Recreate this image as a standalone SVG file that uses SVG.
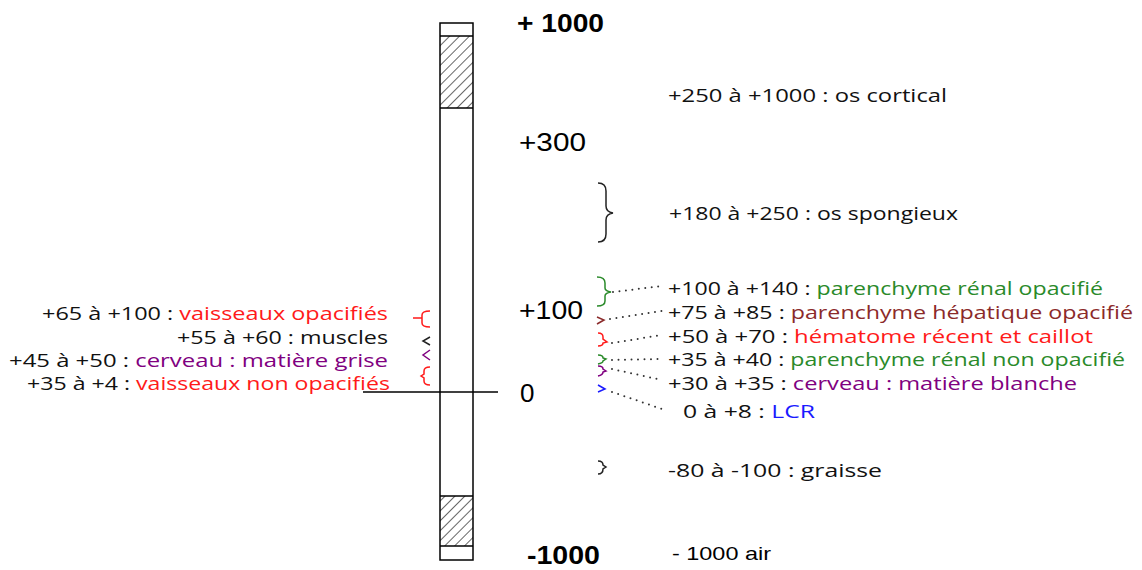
<svg xmlns="http://www.w3.org/2000/svg" width="1142" height="570" viewBox="0 0 1142 570">
<style>
.t{font-family:"Open Sans","Liberation Sans",sans-serif;font-size:18px;fill:#111}
.s{font-family:"Liberation Sans",Arial,sans-serif;font-size:26px;fill:#000}
.b{font-weight:bold}
.r{fill:#ff1a1a}.g{fill:#2a8a2a}.br{fill:#8b2a2a}.p{fill:#800080}.bl{fill:#1a1aff}
.br-k{fill:none;stroke:#222;stroke-width:1.5}
.br-r{fill:none;stroke:#ff1a1a;stroke-width:1.5}
.br-g{fill:none;stroke:#2a8a2a;stroke-width:1.5}
.br-br{fill:none;stroke:#8b2a2a;stroke-width:1.5}
.br-p{fill:none;stroke:#800080;stroke-width:1.5}
.br-bl{fill:none;stroke:#1a1aff;stroke-width:1.5}
.dot{fill:none;stroke:#333;stroke-width:2;stroke-dasharray:0 6.5;stroke-linecap:round}
</style>
<defs>
<pattern id="hatch" patternUnits="userSpaceOnUse" width="7" height="7" patternTransform="rotate(45)">
<line x1="0" y1="0" x2="0" y2="7" stroke="#000" stroke-width="1.2"/>
</pattern>
</defs>
<rect width="1142" height="570" fill="#fff"/>
<g id="bar">
<rect x="440" y="36" width="33" height="72" fill="url(#hatch)"/>
<rect x="440" y="496" width="33" height="50" fill="url(#hatch)"/>
<rect x="440" y="23" width="33" height="537" fill="none" stroke="#000" stroke-width="1.5"/>
<line x1="440" y1="36" x2="473" y2="36" stroke="#000" stroke-width="1.5"/>
<line x1="440" y1="108" x2="473" y2="108" stroke="#000" stroke-width="1.5"/>
<line x1="440" y1="496" x2="473" y2="496" stroke="#000" stroke-width="1.5"/>
<line x1="440" y1="546" x2="473" y2="546" stroke="#000" stroke-width="1.5"/>
<line x1="363" y1="392" x2="498" y2="392" stroke="#000" stroke-width="1.5"/>
</g>
<g id="scale">
<text class="s b" x="517" y="32" textLength="87" lengthAdjust="spacingAndGlyphs">+ 1000</text>
<text class="s" x="519" y="151" textLength="67" lengthAdjust="spacingAndGlyphs">+300</text>
<text class="s" x="519" y="319" textLength="64" lengthAdjust="spacingAndGlyphs">+100</text>
<text class="s" x="520" y="402">0</text>
<text class="s b" style="font-size:25px" x="527" y="564" textLength="73" lengthAdjust="spacingAndGlyphs">-1000</text>
</g>
<g id="left-labels">
<text class="t" x="42" y="320" textLength="346" lengthAdjust="spacingAndGlyphs">+65 à +100 : <tspan class="r">vaisseaux opacifiés</tspan></text>
<text class="t" x="177" y="344" textLength="211" lengthAdjust="spacingAndGlyphs">+55 à +60 : muscles</text>
<text class="t" x="9" y="367" textLength="379" lengthAdjust="spacingAndGlyphs">+45 à +50 : <tspan class="p">cerveau : matière grise</tspan></text>
<text class="t" x="27" y="390" textLength="363" lengthAdjust="spacingAndGlyphs">+35 à +4 : <tspan class="r">vaisseaux non opacifiés</tspan></text>
</g>
<g id="left-braces">
<path class="br-r" d="M430,311 Q422,311 422,315 L422,323 Q422,327 430,327 M422,318 L413,318"/>
<path class="br-k" d="M430,337 L423,341 L430,345"/>
<path class="br-p" d="M430,350 L423,355 L430,360"/>
<path class="br-r" d="M430,367 Q424,367 424,371 L424,374 L421,376 L424,378 L424,381 Q424,385 430,385"/>
</g>
<g id="right-braces">
<path class="br-k" d="M598,183 Q606,183 606,191 L606,206 Q606,212 613,213 Q606,214 606,220 L606,234 Q606,242 598,242"/>
<path class="br-g" d="M597,277 Q605,277 605,283 L605,288 Q605,291 611,292 Q605,293 605,296 L605,301 Q605,306 597,306"/>
<path class="br-br" d="M597,317 L604,320 L597,324"/>
<path class="br-r" d="M598,333 Q603,333 603,337 L603,339 L607,342 L603,343 Q603,346 598,346"/>
<path class="br-g" d="M598,355 Q603,355 603,358 L606,359 L603,361 Q603,363 598,364"/>
<path class="br-p" d="M598,366 Q603,366 603,369 L606,371 L603,372 Q603,375 598,376"/>
<path class="br-bl" d="M598,385 L605,389 L598,392"/>
<path class="br-k" d="M598,461 Q603,461 603,465 L606,467 L603,469 Q603,474 598,474"/>
</g>
<g id="connectors">
<line class="dot" x1="613" y1="292" x2="662" y2="286"/>
<line class="dot" x1="610" y1="319" x2="662" y2="311"/>
<line class="dot" x1="612" y1="343" x2="662" y2="335"/>
<line class="dot" x1="612" y1="360" x2="662" y2="359"/>
<line class="dot" x1="612" y1="369" x2="662" y2="380"/>
<line class="dot" x1="612" y1="392" x2="665" y2="410"/>
</g>
<g id="right-labels">
<text class="t" x="668" y="102" textLength="279" lengthAdjust="spacingAndGlyphs">+250 à +1000 : os cortical</text>
<text class="t" x="669" y="220" textLength="289" lengthAdjust="spacingAndGlyphs">+180 à +250 : os spongieux</text>
<text class="t" x="668" y="295" textLength="435" lengthAdjust="spacingAndGlyphs">+100 à +140 : <tspan class="g">parenchyme rénal opacifié</tspan></text>
<text class="t" x="668" y="319" textLength="465" lengthAdjust="spacingAndGlyphs">+75 à +85 : <tspan class="br">parenchyme hépatique opacifié</tspan></text>
<text class="t" x="668" y="343" textLength="425" lengthAdjust="spacingAndGlyphs">+50 à +70 : <tspan class="r">hématome récent et caillot</tspan></text>
<text class="t" x="668" y="366" textLength="457" lengthAdjust="spacingAndGlyphs">+35 à +40 : <tspan class="g">parenchyme rénal non opacifié</tspan></text>
<text class="t" x="668" y="390" textLength="409" lengthAdjust="spacingAndGlyphs">+30 à +35 : <tspan class="p">cerveau : matière blanche</tspan></text>
<text class="t" x="683" y="418" textLength="132" lengthAdjust="spacingAndGlyphs">0 à +8 : <tspan class="bl">LCR</tspan></text>
<text class="t" x="668" y="477" textLength="214" lengthAdjust="spacingAndGlyphs">-80 à -100 : graisse</text>
<text class="s" style="font-size:19px" x="672" y="560" textLength="99" lengthAdjust="spacingAndGlyphs">- 1000 air</text>
</g>
</svg>
